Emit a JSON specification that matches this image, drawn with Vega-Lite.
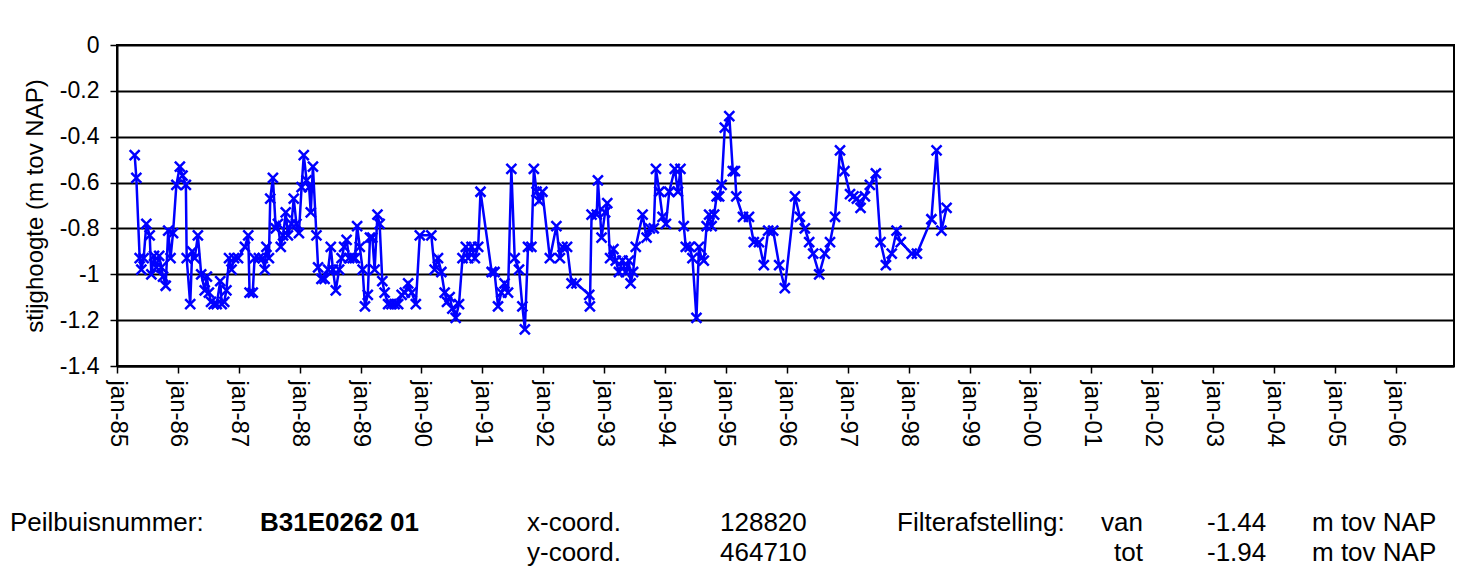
{
  "$schema": "https://vega.github.io/schema/vega-lite/v6.json",
  "width": 1337,
  "height": 321,
  "autosize": {"type": "none"},
  "padding": {"left": 117, "top": 45, "right": 20, "bottom": 202},
  "background": "white",
  "config": {
    "font": "Liberation Sans",
    "view": {"stroke": "black", "strokeWidth": 2}
  },
  "datasets": {
    "metingen": [
      {"datum": "1985-04-17", "stijghoogte": -0.48},
      {"datum": "1985-04-27", "stijghoogte": -0.58},
      {"datum": "1985-05-17", "stijghoogte": -0.93},
      {"datum": "1985-05-27", "stijghoogte": -0.98},
      {"datum": "1985-06-10", "stijghoogte": -0.93},
      {"datum": "1985-06-26", "stijghoogte": -0.78},
      {"datum": "1985-07-16", "stijghoogte": -0.83},
      {"datum": "1985-07-26", "stijghoogte": -1.0},
      {"datum": "1985-08-11", "stijghoogte": -0.92},
      {"datum": "1985-08-25", "stijghoogte": -0.97},
      {"datum": "1985-09-11", "stijghoogte": -0.92},
      {"datum": "1985-09-24", "stijghoogte": -0.97},
      {"datum": "1985-10-04", "stijghoogte": -1.01},
      {"datum": "1985-10-20", "stijghoogte": -1.05},
      {"datum": "1985-11-04", "stijghoogte": -0.81},
      {"datum": "1985-11-18", "stijghoogte": -0.93},
      {"datum": "1985-12-03", "stijghoogte": -0.82},
      {"datum": "1985-12-23", "stijghoogte": -0.61},
      {"datum": "1986-01-13", "stijghoogte": -0.53},
      {"datum": "1986-01-29", "stijghoogte": -0.57},
      {"datum": "1986-02-18", "stijghoogte": -0.61},
      {"datum": "1986-02-23", "stijghoogte": -0.93},
      {"datum": "1986-03-16", "stijghoogte": -1.13},
      {"datum": "1986-03-28", "stijghoogte": -0.9},
      {"datum": "1986-04-12", "stijghoogte": -0.93},
      {"datum": "1986-05-01", "stijghoogte": -0.83},
      {"datum": "1986-05-21", "stijghoogte": -1.0},
      {"datum": "1986-06-11", "stijghoogte": -1.07},
      {"datum": "1986-06-24", "stijghoogte": -1.01},
      {"datum": "1986-07-06", "stijghoogte": -1.08},
      {"datum": "1986-07-19", "stijghoogte": -1.12},
      {"datum": "1986-08-04", "stijghoogte": -1.13},
      {"datum": "1986-08-22", "stijghoogte": -1.13},
      {"datum": "1986-09-12", "stijghoogte": -1.03},
      {"datum": "1986-09-21", "stijghoogte": -1.13},
      {"datum": "1986-10-06", "stijghoogte": -1.12},
      {"datum": "1986-10-19", "stijghoogte": -1.07},
      {"datum": "1986-11-04", "stijghoogte": -0.93},
      {"datum": "1986-11-19", "stijghoogte": -0.98},
      {"datum": "1986-12-04", "stijghoogte": -0.93},
      {"datum": "1986-12-28", "stijghoogte": -0.93},
      {"datum": "1987-02-07", "stijghoogte": -0.88},
      {"datum": "1987-02-27", "stijghoogte": -0.83},
      {"datum": "1987-03-07", "stijghoogte": -1.08},
      {"datum": "1987-03-26", "stijghoogte": -1.08},
      {"datum": "1987-04-06", "stijghoogte": -0.93},
      {"datum": "1987-05-02", "stijghoogte": -0.93},
      {"datum": "1987-05-25", "stijghoogte": -0.93},
      {"datum": "1987-06-06", "stijghoogte": -0.98},
      {"datum": "1987-06-16", "stijghoogte": -0.88},
      {"datum": "1987-07-01", "stijghoogte": -0.93},
      {"datum": "1987-07-09", "stijghoogte": -0.67},
      {"datum": "1987-07-25", "stijghoogte": -0.58},
      {"datum": "1987-08-11", "stijghoogte": -0.8},
      {"datum": "1987-08-24", "stijghoogte": -0.78},
      {"datum": "1987-09-10", "stijghoogte": -0.88},
      {"datum": "1987-09-24", "stijghoogte": -0.83},
      {"datum": "1987-10-10", "stijghoogte": -0.73},
      {"datum": "1987-10-23", "stijghoogte": -0.83},
      {"datum": "1987-11-13", "stijghoogte": -0.78},
      {"datum": "1987-11-27", "stijghoogte": -0.67},
      {"datum": "1987-12-13", "stijghoogte": -0.78},
      {"datum": "1987-12-28", "stijghoogte": -0.82},
      {"datum": "1988-01-13", "stijghoogte": -0.62},
      {"datum": "1988-01-26", "stijghoogte": -0.48},
      {"datum": "1988-02-12", "stijghoogte": -0.59},
      {"datum": "1988-02-27", "stijghoogte": -0.62},
      {"datum": "1988-03-08", "stijghoogte": -0.73},
      {"datum": "1988-03-21", "stijghoogte": -0.53},
      {"datum": "1988-04-11", "stijghoogte": -0.83},
      {"datum": "1988-04-21", "stijghoogte": -0.97},
      {"datum": "1988-05-11", "stijghoogte": -1.02},
      {"datum": "1988-05-30", "stijghoogte": -1.02},
      {"datum": "1988-06-20", "stijghoogte": -0.98},
      {"datum": "1988-07-06", "stijghoogte": -0.88},
      {"datum": "1988-07-19", "stijghoogte": -0.98},
      {"datum": "1988-08-05", "stijghoogte": -1.07},
      {"datum": "1988-08-25", "stijghoogte": -0.98},
      {"datum": "1988-09-09", "stijghoogte": -0.93},
      {"datum": "1988-09-24", "stijghoogte": -0.88},
      {"datum": "1988-10-09", "stijghoogte": -0.85},
      {"datum": "1988-10-24", "stijghoogte": -0.93},
      {"datum": "1988-11-14", "stijghoogte": -0.93},
      {"datum": "1988-11-28", "stijghoogte": -0.93},
      {"datum": "1988-12-11", "stijghoogte": -0.79},
      {"datum": "1988-12-27", "stijghoogte": -0.88},
      {"datum": "1989-01-13", "stijghoogte": -0.98},
      {"datum": "1989-01-27", "stijghoogte": -1.14},
      {"datum": "1989-02-13", "stijghoogte": -1.09},
      {"datum": "1989-02-26", "stijghoogte": -0.84},
      {"datum": "1989-03-12", "stijghoogte": -0.84},
      {"datum": "1989-03-26", "stijghoogte": -0.98},
      {"datum": "1989-04-12", "stijghoogte": -0.74},
      {"datum": "1989-04-25", "stijghoogte": -0.78},
      {"datum": "1989-05-11", "stijghoogte": -1.03},
      {"datum": "1989-05-25", "stijghoogte": -1.08},
      {"datum": "1989-06-15", "stijghoogte": -1.13},
      {"datum": "1989-07-05", "stijghoogte": -1.13},
      {"datum": "1989-07-24", "stijghoogte": -1.13},
      {"datum": "1989-08-14", "stijghoogte": -1.13},
      {"datum": "1989-09-04", "stijghoogte": -1.09},
      {"datum": "1989-09-23", "stijghoogte": -1.08},
      {"datum": "1989-10-13", "stijghoogte": -1.04},
      {"datum": "1989-11-03", "stijghoogte": -1.08},
      {"datum": "1989-11-28", "stijghoogte": -1.13},
      {"datum": "1989-12-22", "stijghoogte": -0.83},
      {"datum": "1990-03-01", "stijghoogte": -0.83},
      {"datum": "1990-03-21", "stijghoogte": -0.98},
      {"datum": "1990-04-10", "stijghoogte": -0.93},
      {"datum": "1990-04-30", "stijghoogte": -0.99},
      {"datum": "1990-05-20", "stijghoogte": -1.08},
      {"datum": "1990-06-03", "stijghoogte": -1.12},
      {"datum": "1990-06-19", "stijghoogte": -1.1},
      {"datum": "1990-07-05", "stijghoogte": -1.15},
      {"datum": "1990-07-25", "stijghoogte": -1.19},
      {"datum": "1990-08-14", "stijghoogte": -1.13},
      {"datum": "1990-09-04", "stijghoogte": -0.93},
      {"datum": "1990-09-24", "stijghoogte": -0.88},
      {"datum": "1990-10-08", "stijghoogte": -0.93},
      {"datum": "1990-10-28", "stijghoogte": -0.88},
      {"datum": "1990-11-17", "stijghoogte": -0.93},
      {"datum": "1990-12-07", "stijghoogte": -0.88},
      {"datum": "1990-12-21", "stijghoogte": -0.64},
      {"datum": "1991-02-26", "stijghoogte": -0.99},
      {"datum": "1991-03-15", "stijghoogte": -0.99},
      {"datum": "1991-04-05", "stijghoogte": -1.14},
      {"datum": "1991-04-25", "stijghoogte": -1.08},
      {"datum": "1991-05-14", "stijghoogte": -1.04},
      {"datum": "1991-06-04", "stijghoogte": -1.08},
      {"datum": "1991-06-24", "stijghoogte": -0.54},
      {"datum": "1991-07-14", "stijghoogte": -0.93},
      {"datum": "1991-08-09", "stijghoogte": -0.98},
      {"datum": "1991-08-29", "stijghoogte": -1.14},
      {"datum": "1991-09-13", "stijghoogte": -1.24},
      {"datum": "1991-10-02", "stijghoogte": -0.88},
      {"datum": "1991-10-22", "stijghoogte": -0.88},
      {"datum": "1991-11-06", "stijghoogte": -0.54},
      {"datum": "1991-11-22", "stijghoogte": -0.64},
      {"datum": "1991-12-07", "stijghoogte": -0.68},
      {"datum": "1991-12-27", "stijghoogte": -0.64},
      {"datum": "1992-02-10", "stijghoogte": -0.93},
      {"datum": "1992-03-20", "stijghoogte": -0.79},
      {"datum": "1992-04-10", "stijghoogte": -0.93},
      {"datum": "1992-04-26", "stijghoogte": -0.88},
      {"datum": "1992-05-23", "stijghoogte": -0.88},
      {"datum": "1992-06-19", "stijghoogte": -1.04},
      {"datum": "1992-07-18", "stijghoogte": -1.04},
      {"datum": "1992-10-03", "stijghoogte": -1.09},
      {"datum": "1992-10-07", "stijghoogte": -1.14},
      {"datum": "1992-10-17", "stijghoogte": -0.74},
      {"datum": "1992-11-17", "stijghoogte": -0.74},
      {"datum": "1992-11-24", "stijghoogte": -0.59},
      {"datum": "1992-12-16", "stijghoogte": -0.84},
      {"datum": "1993-01-06", "stijghoogte": -0.73},
      {"datum": "1993-01-19", "stijghoogte": -0.69},
      {"datum": "1993-02-05", "stijghoogte": -0.93},
      {"datum": "1993-02-25", "stijghoogte": -0.89},
      {"datum": "1993-03-11", "stijghoogte": -0.94},
      {"datum": "1993-03-30", "stijghoogte": -0.99},
      {"datum": "1993-04-20", "stijghoogte": -0.94},
      {"datum": "1993-05-10", "stijghoogte": -0.99},
      {"datum": "1993-05-29", "stijghoogte": -0.94},
      {"datum": "1993-06-08", "stijghoogte": -1.04},
      {"datum": "1993-06-23", "stijghoogte": -0.99},
      {"datum": "1993-07-09", "stijghoogte": -0.88},
      {"datum": "1993-08-19", "stijghoogte": -0.74},
      {"datum": "1993-09-12", "stijghoogte": -0.84},
      {"datum": "1993-10-02", "stijghoogte": -0.8},
      {"datum": "1993-10-25", "stijghoogte": -0.8},
      {"datum": "1993-11-07", "stijghoogte": -0.54},
      {"datum": "1993-11-27", "stijghoogte": -0.64},
      {"datum": "1993-12-17", "stijghoogte": -0.75},
      {"datum": "1994-01-06", "stijghoogte": -0.78},
      {"datum": "1994-01-26", "stijghoogte": -0.64},
      {"datum": "1994-02-28", "stijghoogte": -0.54},
      {"datum": "1994-03-19", "stijghoogte": -0.64},
      {"datum": "1994-04-03", "stijghoogte": -0.54},
      {"datum": "1994-04-23", "stijghoogte": -0.79},
      {"datum": "1994-05-05", "stijghoogte": -0.88},
      {"datum": "1994-05-28", "stijghoogte": -0.88},
      {"datum": "1994-06-14", "stijghoogte": -0.93},
      {"datum": "1994-07-08", "stijghoogte": -1.19},
      {"datum": "1994-07-23", "stijghoogte": -0.88},
      {"datum": "1994-08-07", "stijghoogte": -0.93},
      {"datum": "1994-08-21", "stijghoogte": -0.94},
      {"datum": "1994-09-07", "stijghoogte": -0.79},
      {"datum": "1994-09-22", "stijghoogte": -0.74},
      {"datum": "1994-10-07", "stijghoogte": -0.79},
      {"datum": "1994-10-22", "stijghoogte": -0.74},
      {"datum": "1994-11-06", "stijghoogte": -0.66},
      {"datum": "1994-11-21", "stijghoogte": -0.66},
      {"datum": "1994-12-06", "stijghoogte": -0.61},
      {"datum": "1994-12-25", "stijghoogte": -0.36},
      {"datum": "1995-01-21", "stijghoogte": -0.31},
      {"datum": "1995-02-11", "stijghoogte": -0.55},
      {"datum": "1995-02-24", "stijghoogte": -0.55},
      {"datum": "1995-03-04", "stijghoogte": -0.66},
      {"datum": "1995-04-13", "stijghoogte": -0.75},
      {"datum": "1995-05-19", "stijghoogte": -0.75},
      {"datum": "1995-06-17", "stijghoogte": -0.86},
      {"datum": "1995-07-18", "stijghoogte": -0.86},
      {"datum": "1995-08-16", "stijghoogte": -0.96},
      {"datum": "1995-09-11", "stijghoogte": -0.81},
      {"datum": "1995-10-11", "stijghoogte": -0.81},
      {"datum": "1995-11-16", "stijghoogte": -0.96},
      {"datum": "1995-12-20", "stijghoogte": -1.06},
      {"datum": "1996-02-19", "stijghoogte": -0.66},
      {"datum": "1996-03-19", "stijghoogte": -0.75},
      {"datum": "1996-04-18", "stijghoogte": -0.8},
      {"datum": "1996-05-14", "stijghoogte": -0.86},
      {"datum": "1996-06-07", "stijghoogte": -0.91},
      {"datum": "1996-07-13", "stijghoogte": -1.0},
      {"datum": "1996-08-16", "stijghoogte": -0.91},
      {"datum": "1996-09-16", "stijghoogte": -0.86},
      {"datum": "1996-10-16", "stijghoogte": -0.75},
      {"datum": "1996-11-15", "stijghoogte": -0.46},
      {"datum": "1996-12-11", "stijghoogte": -0.55},
      {"datum": "1997-01-14", "stijghoogte": -0.65},
      {"datum": "1997-02-04", "stijghoogte": -0.66},
      {"datum": "1997-02-24", "stijghoogte": -0.67},
      {"datum": "1997-03-18", "stijghoogte": -0.71},
      {"datum": "1997-04-13", "stijghoogte": -0.66},
      {"datum": "1997-05-13", "stijghoogte": -0.61},
      {"datum": "1997-06-18", "stijghoogte": -0.56},
      {"datum": "1997-07-16", "stijghoogte": -0.86},
      {"datum": "1997-08-17", "stijghoogte": -0.96},
      {"datum": "1997-09-21", "stijghoogte": -0.91},
      {"datum": "1997-10-20", "stijghoogte": -0.81},
      {"datum": "1997-11-14", "stijghoogte": -0.86},
      {"datum": "1998-01-19", "stijghoogte": -0.91},
      {"datum": "1998-02-19", "stijghoogte": -0.91},
      {"datum": "1998-05-17", "stijghoogte": -0.76},
      {"datum": "1998-06-17", "stijghoogte": -0.46},
      {"datum": "1998-07-16", "stijghoogte": -0.81},
      {"datum": "1998-08-16", "stijghoogte": -0.71}
    ],
    "kop": [
      {"rij": 1, "kolom": 1, "tekst": "Peilbuisnummer:"},
      {"rij": 1, "kolom": 2, "tekst": "B31E0262 01"},
      {"rij": 1, "kolom": 3, "tekst": "x-coord."},
      {"rij": 1, "kolom": 4, "tekst": "128820"},
      {"rij": 1, "kolom": 5, "tekst": "Filterafstelling:"},
      {"rij": 1, "kolom": 6, "tekst": "van"},
      {"rij": 1, "kolom": 7, "tekst": "-1.44"},
      {"rij": 1, "kolom": 8, "tekst": "m tov NAP"},
      {"rij": 2, "kolom": 3, "tekst": "y-coord."},
      {"rij": 2, "kolom": 4, "tekst": "464710"},
      {"rij": 2, "kolom": 6, "tekst": "tot"},
      {"rij": 2, "kolom": 7, "tekst": "-1.94"},
      {"rij": 2, "kolom": 8, "tekst": "m tov NAP"}
    ]
  },
  "layer": [
    {
      "data": {"name": "metingen"},
      "encoding": {
        "x": {
          "field": "datum",
          "type": "temporal",
          "scale": {
            "type": "utc",
            "domain": [
              {"year": 1985, "month": 1, "date": 1, "utc": true},
              {"year": 2006, "month": 12, "date": 15, "utc": true}
            ],
            "nice": false
          },
          "axis": {
            "title": null,
            "tickCount": {"interval": "year", "step": 1},
            "labelExpr": "lower(utcFormat(datum.value, '%b-%y'))",
            "labelAngle": 90,
            "labelAlign": "left",
            "labelBaseline": "middle",
            "labelFontSize": 24,
            "labelColor": "black",
            "labelPadding": 7,
            "labelOverlap": false,
            "labelFlush": false,
            "tickSize": 7,
            "tickColor": "black",
            "tickWidth": 1.5,
            "domainColor": "black",
            "domainWidth": 2,
            "grid": false
          }
        },
        "y": {
          "field": "stijghoogte",
          "type": "quantitative",
          "scale": {"domain": [-1.4, 0], "nice": false, "zero": false},
          "axis": {
            "title": "stijghoogte (m tov NAP)",
            "titleFontSize": 24,
            "titleFontWeight": "normal",
            "titleColor": "black",
            "titlePadding": 12,
            "values": [0, -0.2, -0.4, -0.6, -0.8, -1, -1.2, -1.4],
            "labelExpr": "'' + datum.value",
            "labelFontSize": 23,
            "labelColor": "black",
            "labelPadding": 11,
            "tickSize": 7,
            "tickColor": "black",
            "tickWidth": 1.5,
            "domainColor": "black",
            "domainWidth": 2,
            "grid": true,
            "gridColor": "black",
            "gridWidth": 2,
            "gridOpacity": 1
          }
        }
      },
      "layer": [
        {"mark": {"type": "line", "color": "#0000FF", "strokeWidth": 2.5}},
        {
          "mark": {
            "type": "point",
            "shape": "M-1,-1L1,1M-1,1L1,-1",
            "filled": false,
            "color": "#0000FF",
            "strokeWidth": 2.5,
            "size": 100,
            "opacity": 1
          }
        }
      ]
    },
    {
      "data": {"name": "kop"},
      "encoding": {
        "x": {
          "field": "kolom",
          "type": "quantitative",
          "scale": {
            "domain": [1, 2, 3, 4, 5, 6, 7, 8],
            "range": [-107, 143, 410, 603, 780, 1026, 1090, 1195],
            "nice": false,
            "zero": false
          },
          "axis": null
        },
        "y": {
          "field": "rij",
          "type": "quantitative",
          "scale": {"domain": [1, 2], "range": [486, 516], "nice": false, "zero": false},
          "axis": null
        },
        "text": {"field": "tekst"}
      },
      "layer": [
        {
          "transform": [{"filter": "datum.kolom != 2 && datum.kolom != 6"}],
          "mark": {"type": "text", "align": "left", "baseline": "alphabetic", "fontSize": 26, "color": "black"}
        },
        {
          "transform": [{"filter": "datum.kolom == 2"}],
          "mark": {"type": "text", "align": "left", "baseline": "alphabetic", "fontSize": 26, "fontWeight": "bold", "color": "black"}
        },
        {
          "transform": [{"filter": "datum.kolom == 6"}],
          "mark": {"type": "text", "align": "right", "baseline": "alphabetic", "fontSize": 26, "color": "black"}
        }
      ]
    }
  ],
  "resolve": {"scale": {"x": "independent", "y": "independent"}}
}
